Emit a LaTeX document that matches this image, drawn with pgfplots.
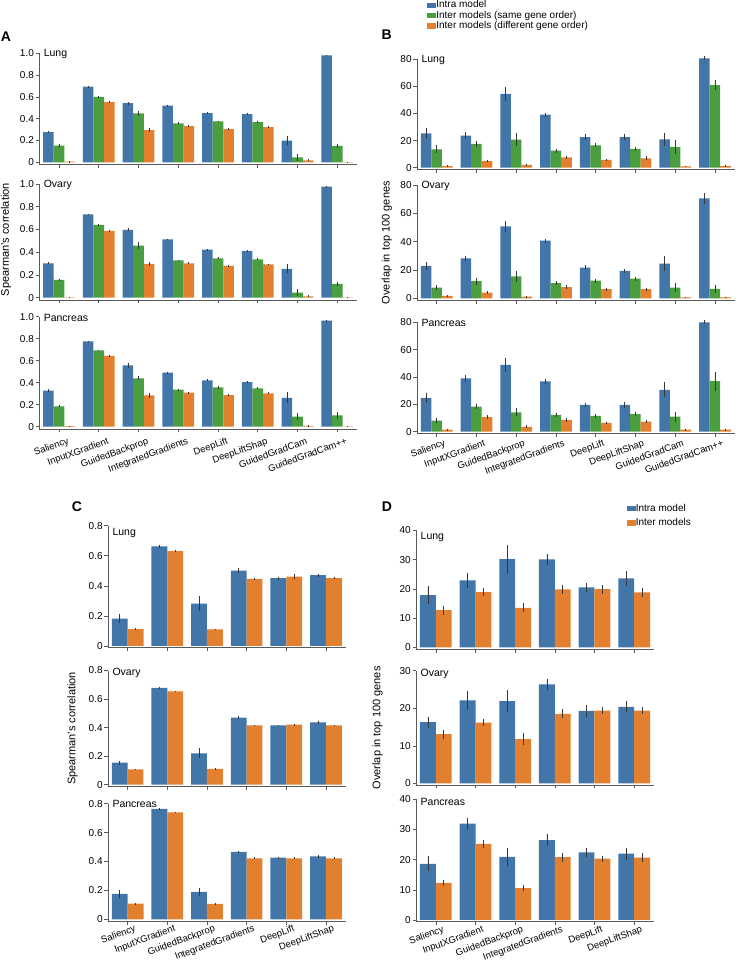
\documentclass[border=0pt]{standalone}
\usepackage{fontspec}
\setmainfont{Liberation Sans}
\usepackage{pgfplots}
\usepackage{pgfplotstable}
\pgfplotsset{compat=1.18}
\definecolor{cblue}{RGB}{66,118,168}
\definecolor{cgreen}{RGB}{74,158,64}
\definecolor{corange}{RGB}{226,128,48}
\definecolor{cerr}{RGB}{55,55,55}
\definecolor{caxis}{RGB}{90,90,90}

% ---- Panel A: Spearman's correlation (b = intra, g = inter same order, o = inter different order)
\pgfplotstableread{
x b be g ge o oe
0 0.278 0.010 0.154 0.010 0.006 0.003
1 0.695 0.006 0.600 0.008 0.551 0.008
2 0.542 0.012 0.449 0.020 0.295 0.020
3 0.520 0.008 0.357 0.010 0.332 0.010
4 0.452 0.008 0.375 0.008 0.305 0.008
5 0.443 0.008 0.369 0.008 0.323 0.008
6 0.200 0.040 0.046 0.030 0.018 0.008
7 0.981 0.004 0.151 0.020 0.002 0.001
}\ALung
\pgfplotstableread{
x b be g ge o oe
0 0.303 0.010 0.156 0.010 0.003 0.002
1 0.732 0.004 0.641 0.006 0.588 0.006
2 0.597 0.012 0.459 0.030 0.297 0.020
3 0.512 0.006 0.329 0.006 0.303 0.008
4 0.424 0.006 0.347 0.008 0.279 0.006
5 0.412 0.006 0.338 0.010 0.294 0.006
6 0.253 0.040 0.044 0.030 0.012 0.008
7 0.976 0.004 0.121 0.020 0.002 0.001
}\AOvary
\pgfplotstableread{
x b be g ge o oe
0 0.327 0.012 0.185 0.010 0.005 0.002
1 0.776 0.006 0.694 0.005 0.643 0.010
2 0.558 0.020 0.440 0.020 0.285 0.020
3 0.492 0.006 0.336 0.008 0.309 0.008
4 0.422 0.008 0.358 0.012 0.288 0.006
5 0.406 0.006 0.349 0.008 0.303 0.008
6 0.261 0.050 0.091 0.030 0.008 0.006
7 0.964 0.004 0.103 0.030 0.002 0.001
}\APancreas
% ---- Panel B: overlap in top 100 genes
\pgfplotstableread{
x b be g ge o oe
0 25.4 4.0 13.5 3.0 1.2 0.5
1 23.6 2.5 17.5 2.0 4.9 1.0
2 54.4 5.5 20.7 5.0 2.0 0.8
3 39.1 1.5 12.6 1.5 7.6 1.0
4 22.6 2.0 16.5 1.5 5.7 1.0
5 22.6 2.0 13.8 1.5 6.9 1.5
6 20.9 5.0 15.3 5.0 1.0 0.5
7 80.7 1.5 61.0 3.5 1.2 0.5
}\BLung
\pgfplotstableread{
x b be g ge o oe
0 22.9 3.0 7.6 2.0 1.7 0.5
1 28.1 2.0 12.1 2.5 4.0 1.0
2 50.7 4.0 15.5 4.0 1.2 0.5
3 40.7 1.5 10.7 1.5 7.9 1.5
4 21.7 1.5 12.4 1.5 6.4 1.0
5 19.3 1.5 13.8 1.5 6.4 1.0
6 24.5 5.0 7.6 3.0 0.7 0.4
7 70.5 4.0 6.7 3.0 0.7 0.4
}\BOvary
\pgfplotstableread{
x b be g ge o oe
0 24.7 3.5 8.1 2.0 1.5 0.5
1 39.0 2.5 18.3 2.0 10.6 1.5
2 48.8 5.0 14.1 3.0 3.5 1.0
3 36.8 2.0 12.3 1.5 8.6 1.5
4 19.5 1.5 11.6 1.5 6.4 1.0
5 19.5 2.0 12.8 1.5 7.4 1.0
6 30.6 5.5 10.9 3.5 1.5 0.5
7 80.0 1.5 37.0 7.0 1.5 0.5
}\BPancreas
% ---- Panel C: Spearman's correlation (b = intra, o = inter)
\pgfplotstableread{
x b be o oe
0 0.182 0.030 0.113 0.004
1 0.662 0.010 0.631 0.006
2 0.282 0.050 0.111 0.004
3 0.502 0.015 0.447 0.008
4 0.451 0.010 0.462 0.015
5 0.471 0.010 0.451 0.006
}\CLung
\pgfplotstableread{
x b be o oe
0 0.154 0.015 0.108 0.004
1 0.679 0.006 0.653 0.004
2 0.219 0.035 0.110 0.004
3 0.470 0.010 0.416 0.005
4 0.416 0.005 0.421 0.005
5 0.437 0.010 0.416 0.005
}\COvary
\pgfplotstableread{
x b be o oe
0 0.175 0.025 0.108 0.004
1 0.765 0.004 0.740 0.004
2 0.189 0.025 0.106 0.004
3 0.466 0.010 0.422 0.006
4 0.427 0.006 0.422 0.006
5 0.436 0.010 0.422 0.006
}\CPancreas
% ---- Panel D: overlap in top 100 genes
\pgfplotstableread{
x b be o oe
0 17.9 3.0 12.7 1.5
1 22.9 2.5 18.9 1.5
2 30.2 5.0 13.5 1.5
3 30.1 2.0 19.8 1.5
4 20.5 1.5 19.9 1.5
5 23.6 2.5 18.8 1.5
}\DLung
\pgfplotstableread{
x b be o oe
0 16.3 1.5 13.1 1.2
1 22.1 2.5 16.2 1.0
2 21.9 3.0 11.8 1.5
3 26.4 1.5 18.5 1.2
4 19.3 1.5 19.4 1.0
5 20.4 1.5 19.4 1.0
}\DOvary
\pgfplotstableread{
x b be o oe
0 18.6 2.5 12.3 1.0
1 31.9 2.0 25.2 1.2
2 20.9 3.0 10.6 1.0
3 26.5 2.0 20.8 1.5
4 22.4 1.5 20.3 1.0
5 22.0 2.0 20.7 1.5
}\DPancreas

\pgfplotsset{
  panel/.style={
    scale only axis, anchor=south west, clip=false,
    axis x line*=bottom, axis y line*=left,
    axis line style={caxis, line width=0.6pt},
    tick style={caxis, line width=0.6pt},
    tick align=outside, major tick length=3.5pt,
    ybar,
    xticklabels={},
    yticklabel style={font=\fontsize{10}{12}\selectfont, inner sep=1.5pt},
    /pgf/number format/assume math mode=true,
    ylabel style={font=\fontsize{11}{13}\selectfont},
  },
  eight/.style={panel, xmin=-0.5, xmax=7.5, xtick={0,1,2,3,4,5,6,7}, bar width=0.2667, width=318pt},
  six/.style={panel, xmin=-0.5, xmax=5.5, xtick={0,1,2,3,4,5}, bar width=0.4, width=238pt},
  Aax/.style={eight, ymin=-0.02, ymax=1, ytick={0,0.2,0.4,0.6,0.8,1}, yticklabels={0,0.2,0.4,0.6,0.8,1.0}},
  Bax/.style={eight, ymin=-1.5, ymax=80, ytick={0,20,40,60,80}},
  Cax/.style={six, ymin=-0.012, ymax=0.8, ytick={0,0.2,0.4,0.6,0.8}, yticklabels={0,0.2,0.4,0.6,0.8}},
  Dax/.style={six, ymin=-0.6, ymax=40, ytick={0,10,20,30,40}},
  bottomeight/.style={xticklabels={Saliency,InputXGradient,GuidedBackprop,IntegratedGradients,DeepLift,DeepLiftShap,GuidedGradCam,GuidedGradCam++},
    xticklabel style={rotate=20, anchor=north east, font=\fontsize{9.5}{11}\selectfont, inner sep=1pt, xshift=7pt, yshift=#1}},
  bottomsix/.style={xticklabels={Saliency,InputXGradient,GuidedBackprop,IntegratedGradients,DeepLift,DeepLiftShap},
    xticklabel style={rotate=20, anchor=north east, font=\fontsize{9.5}{11}\selectfont, inner sep=1pt, xshift=7pt, yshift=-1pt}},
  eb/.style={error bars/.cd, y dir=both, y explicit, error mark=none, error bar style={draw=cerr, line width=0.7pt}},
}
\newcommand{\threebars}[1]{%
  \addplot[fill=cblue, draw=none, bar shift=-0.2667, forget plot, eb] table[x=x, y=b, y error=be] {#1};
  \addplot[fill=cgreen, draw=none, bar shift=0, forget plot, eb] table[x=x, y=g, y error=ge] {#1};
  \addplot[fill=corange, draw=none, bar shift=0.2667, forget plot, eb] table[x=x, y=o, y error=oe] {#1};
}
\newcommand{\twobars}[1]{%
  \addplot[fill=cblue, draw=none, bar shift=-0.2, forget plot, eb] table[x=x, y=b, y error=be] {#1};
  \addplot[fill=corange, draw=none, bar shift=0.2, forget plot, eb] table[x=x, y=o, y error=oe] {#1};
}
\newcommand{\ptitle}[2][-1pt]{\node[anchor=west, inner sep=0pt, font=\fontsize{10.5}{12}\selectfont] at (rel axis cs:0,1) [xshift=4.5pt, yshift=#1] {#2};}

\begin{document}
\begin{tikzpicture}[font=\fontsize{10}{12}\selectfont]
\useasboundingbox (0pt,0pt) rectangle (738pt,962pt);

% panel letters
\node[font=\bfseries\fontsize{14}{14}\selectfont] at (6pt,925pt) {A};
\node[font=\bfseries\fontsize{14}{14}\selectfont] at (386.7pt,927pt) {B};
\node[font=\bfseries\fontsize{14}{14}\selectfont] at (77pt,455pt) {C};
\node[font=\bfseries\fontsize{14}{14}\selectfont] at (387pt,455.3pt) {D};

% ===== A =====
\begin{axis}[Aax, at={(39.1pt,797.5pt)}, height=111.2pt]
\threebars{\ALung}
\ptitle{Lung}
\end{axis}
\begin{axis}[Aax, at={(39.1pt,662pt)}, height=116pt,
  ylabel={Spearman's correlation}, ylabel style={at={(axis description cs:-0.104,0.52)}, anchor=center}]
\threebars{\AOvary}
\ptitle{Ovary}
\end{axis}
\begin{axis}[Aax, bottomeight=-6pt, at={(39.1pt,533.1pt)}, height=112.2pt]
\threebars{\APancreas}
\ptitle{Pancreas}
\end{axis}

% ===== B =====
\begin{axis}[Bax, at={(416.8pt,792.3pt)}, height=110.4pt,
  legend cell align=left,
  legend style={at={(axis description cs:0.032,1.54)}, anchor=north west, draw=none, fill=none,
    font=\fontsize{10}{10}\selectfont, row sep=0pt, inner sep=0pt, nodes={inner sep=0.8pt}}]
\addlegendimage{legend image code/.code={\fill[cblue] (0pt,-2.3pt) rectangle (8pt,2.3pt);}}
\addlegendentry{Intra model}
\addlegendimage{legend image code/.code={\fill[cgreen] (0pt,-2.3pt) rectangle (8pt,2.3pt);}}
\addlegendentry{Inter models (same gene order)}
\addlegendimage{legend image code/.code={\fill[corange] (0pt,-2.3pt) rectangle (8pt,2.3pt);}}
\addlegendentry{Inter models (different gene order)}
\threebars{\BLung}
\ptitle{Lung}
\end{axis}
\begin{axis}[Bax, at={(416.8pt,661.6pt)}, height=115.4pt,
  ylabel={Overlap in top 100 genes}, ylabel style={at={(axis description cs:-0.0945,0.5)}, anchor=center}]
\threebars{\BOvary}
\ptitle{Ovary}
\end{axis}
\begin{axis}[Bax, bottomeight=-3pt, at={(416.8pt,528.3pt)}, height=111.4pt]
\threebars{\BPancreas}
\ptitle{Pancreas}
\end{axis}

% ===== C =====
\begin{axis}[Cax, at={(107.8pt,314.2pt)}, height=122.1pt]
\twobars{\CLung}
\ptitle[-7pt]{Lung}
\end{axis}
\begin{axis}[Cax, at={(107.8pt,175.6pt)}, height=115.9pt,
  ylabel={Spearman's correlation}, ylabel style={at={(axis description cs:-0.148,0.5)}, anchor=center}]
\twobars{\COvary}
\ptitle[-2pt]{Ovary}
\end{axis}
\begin{axis}[Cax, bottomsix, at={(107.8pt,41pt)}, height=117.3pt]
\twobars{\CPancreas}
\ptitle[0pt]{Pancreas}
\end{axis}

% ===== D =====
\begin{axis}[Dax, at={(416pt,312.95pt)}, height=118.55pt,
  legend cell align=left,
  legend style={at={(axis description cs:0.884,1.232)}, anchor=north west, draw=none, fill=none,
    font=\fontsize{10}{10}\selectfont, row sep=4pt, inner sep=0pt, nodes={inner sep=0.8pt}}]
\addlegendimage{legend image code/.code={\fill[cblue] (0pt,-2.3pt) rectangle (8pt,2.3pt);}}
\addlegendentry{Intra model}
\addlegendimage{legend image code/.code={\fill[corange] (0pt,-2.3pt) rectangle (8pt,2.3pt);}}
\addlegendentry{Inter models}
\twobars{\DLung}
\ptitle[-6pt]{Lung}
\end{axis}
\begin{axis}[Dax, ymin=-0.45, ymax=30, ytick={0,10,20,30}, at={(416pt,177pt)}, height=114.2pt,
  ylabel={Overlap in top 100 genes}, ylabel style={at={(axis description cs:-0.162,0.5)}, anchor=center}]
\twobars{\DOvary}
\ptitle[-3pt]{Ovary}
\end{axis}
\begin{axis}[Dax, bottomsix, at={(416pt,40.2pt)}, height=122.5pt]
\twobars{\DPancreas}
\ptitle[-3pt]{Pancreas}
\end{axis}
\end{tikzpicture}
\end{document}
